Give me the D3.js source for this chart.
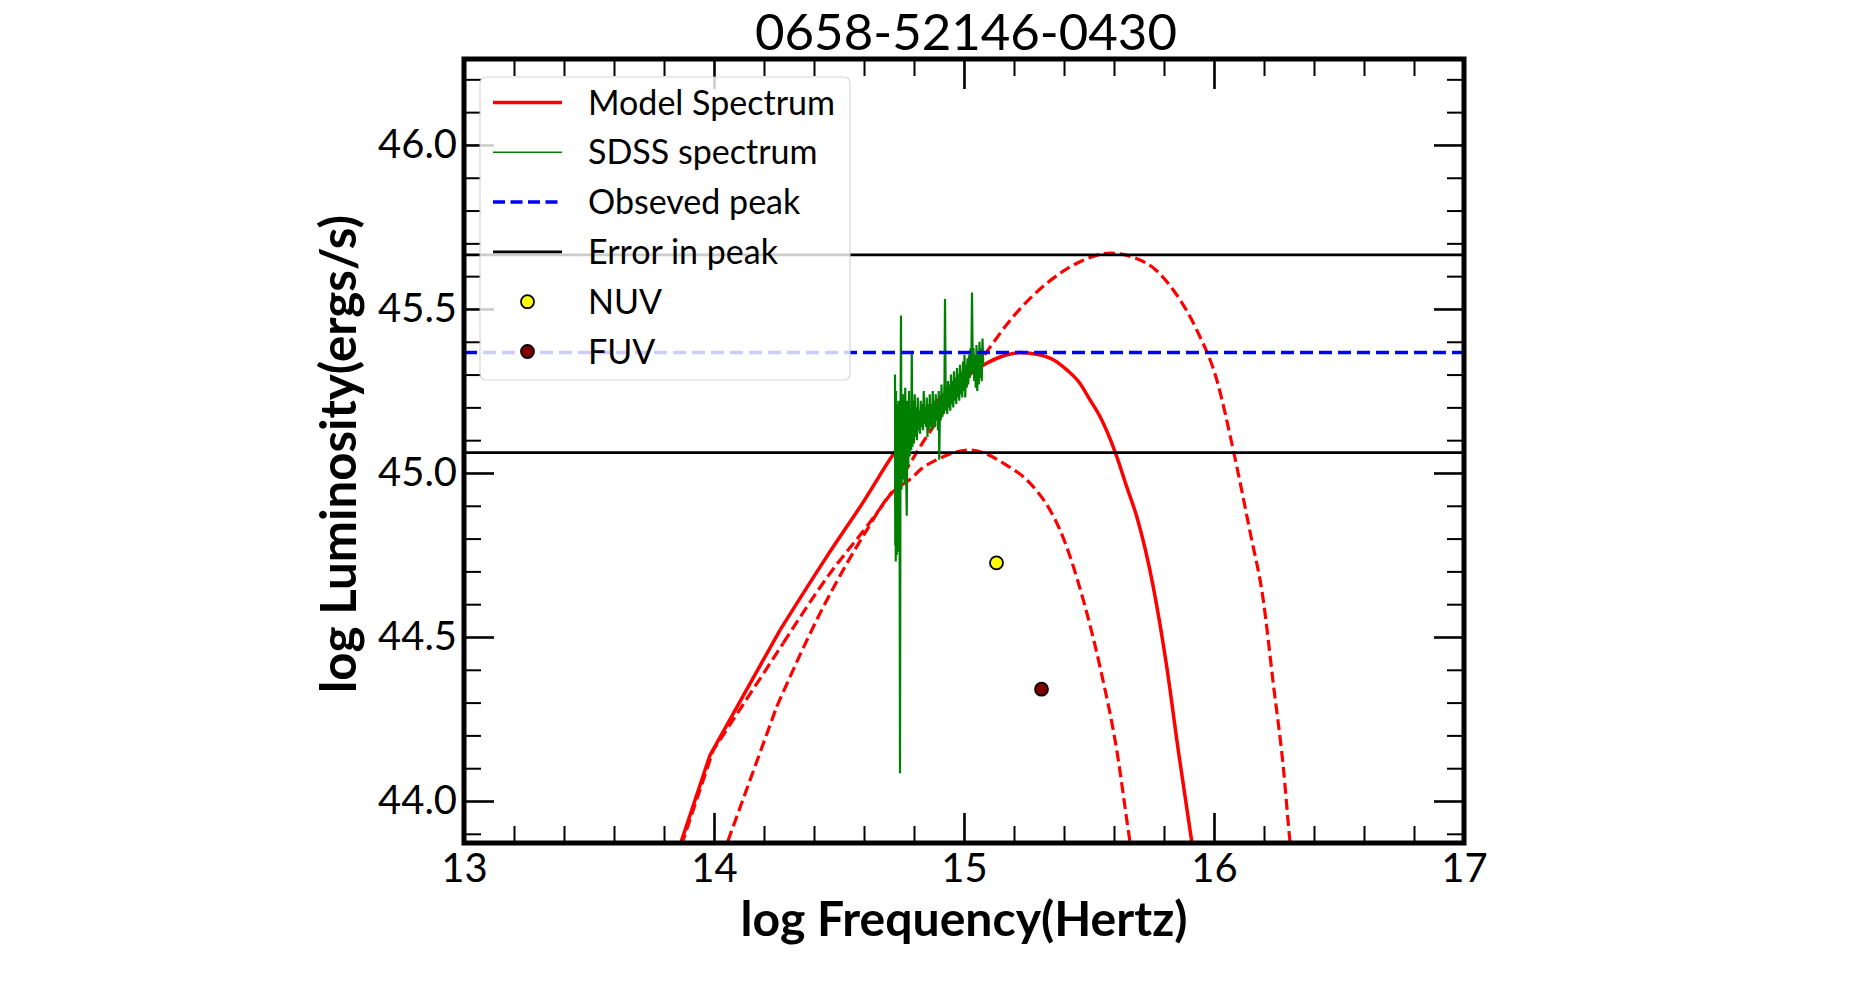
<!DOCTYPE html>
<html lang="en">
<head>
<meta charset="UTF-8">
<title>0658-52146-0430</title>
<script src="https://d3js.org/d3.v7.min.js"></script>
<style>
  body { margin: 0; background: #fff; }
  svg { display: block; font-family: Lato, "Liberation Sans", sans-serif; }
</style>
</head>
<body>
<svg id="chart" width="1855" height="981"></svg>
<script>
// ---- values ----
const plotTitle = "0658-52146-0430";
const nuMajor = [13, 14, 15, 16, 17];
const lumMajor = [44.0, 44.5, 45.0, 45.5, 46.0];

// [log nu, log L]
const modelSpectrum = [
  [13.84, 43.81], [13.984, 44.14], [14.264, 44.521], [14.451, 44.745], [14.60, 44.915],
  [14.72, 45.06], [14.80, 45.14], [14.90, 45.225], [15.00, 45.29], [15.08, 45.33],
  [15.15, 45.355], [15.224, 45.367], [15.29, 45.362], [15.357, 45.345], [15.41, 45.315],
  [15.464, 45.273], [15.504, 45.223], [15.544, 45.172], [15.604, 45.065], [15.65, 44.96],
  [15.691, 44.867], [15.757, 44.653], [15.811, 44.409], [15.857, 44.155], [15.911, 43.876],
  [15.93, 43.78]
];
const modelUpper = [
  [13.85, 43.82], [13.997, 44.155], [14.277, 44.481], [14.464, 44.694], [14.611, 44.837],
  [14.717, 44.948], [14.85, 45.11], [14.95, 45.22], [15.077, 45.355], [15.197, 45.477],
  [15.331, 45.578], [15.464, 45.644], [15.584, 45.670], [15.731, 45.639], [15.837, 45.558],
  [15.931, 45.436], [16.011, 45.284], [16.077, 45.070], [16.144, 44.821], [16.197, 44.613],
  [16.237, 44.359], [16.277, 44.105], [16.304, 43.876], [16.315, 43.80]
];
const modelLower = [
  [14.04, 43.83], [14.057, 43.881], [14.251, 44.288], [14.424, 44.572], [14.611, 44.826],
  [14.70, 44.93], [14.797, 44.989], [14.824, 45.009], [14.904, 45.045], [14.96, 45.062],
  [15.024, 45.070], [15.09, 45.058], [15.157, 45.030], [15.264, 44.969], [15.344, 44.887],
  [15.384, 44.826], [15.477, 44.613], [15.544, 44.409], [15.611, 44.155], [15.664, 43.876],
  [15.68, 43.80]
];
const sdssSpectrum = [
  [14.724, 45.30], [14.725, 44.78], [14.726, 45.18], [14.727, 44.73], [14.728, 45.25],
  [14.729, 44.80], [14.730, 45.12], [14.731, 44.75], [14.732, 45.21], [14.733, 44.85],
  [14.734, 45.10], [14.736, 44.76], [14.738, 45.22], [14.740, 44.90], [14.742, 45.05],
  [14.744, 44.085], [14.746, 45.15], [14.748, 45.48], [14.750, 44.95], [14.752, 45.20],
  [14.754, 44.98], [14.756, 45.24], [14.758, 45.00], [14.760, 45.19], [14.762, 44.97],
  [14.765, 45.26], [14.768, 45.03], [14.771, 44.87], [14.774, 45.22], [14.777, 45.02],
  [14.780, 45.25], [14.783, 45.05], [14.786, 45.18], [14.789, 45.07], [14.791, 45.37],
  [14.794, 45.08], [14.797, 45.22], [14.800, 45.09], [14.803, 45.24], [14.806, 45.11],
  [14.809, 45.20], [14.812, 45.10], [14.815, 45.23], [14.818, 45.13], [14.821, 45.19],
  [14.824, 45.12], [14.827, 45.22], [14.830, 45.14], [14.833, 45.21], [14.836, 45.13],
  [14.839, 45.25], [14.842, 45.15], [14.845, 45.20], [14.848, 45.14], [14.851, 45.23],
  [14.854, 45.11], [14.857, 45.21], [14.860, 45.13], [14.863, 45.24], [14.866, 45.14],
  [14.869, 45.20], [14.872, 45.13], [14.875, 45.25], [14.878, 45.15], [14.881, 45.22],
  [14.884, 45.14], [14.887, 45.24], [14.890, 45.16], [14.893, 45.21], [14.896, 45.13],
  [14.899, 45.25], [14.901, 45.04], [14.904, 45.22], [14.907, 45.16], [14.910, 45.27],
  [14.913, 45.17], [14.916, 45.24], [14.919, 45.18], [14.922, 45.28], [14.924, 45.53],
  [14.927, 45.19], [14.930, 45.26], [14.933, 45.18], [14.936, 45.28], [14.939, 45.20],
  [14.942, 45.27], [14.945, 45.19], [14.948, 45.30], [14.951, 45.21], [14.954, 45.28],
  [14.957, 45.20], [14.960, 45.31], [14.963, 45.22], [14.966, 45.29], [14.969, 45.21],
  [14.972, 45.32], [14.975, 45.23], [14.978, 45.30], [14.981, 45.22], [14.984, 45.33],
  [14.987, 45.24], [14.990, 45.31], [14.993, 45.23], [14.996, 45.34], [14.999, 45.25],
  [15.002, 45.36], [15.005, 45.23], [15.008, 45.33], [15.011, 45.26], [15.014, 45.35],
  [15.017, 45.27], [15.020, 45.36], [15.023, 45.29], [15.026, 45.38], [15.029, 45.30],
  [15.032, 45.55], [15.035, 45.31], [15.038, 45.38], [15.041, 45.28], [15.044, 45.36],
  [15.047, 45.26], [15.050, 45.39], [15.053, 45.25], [15.056, 45.37], [15.059, 45.27],
  [15.062, 45.40], [15.065, 45.29], [15.068, 45.38], [15.071, 45.28], [15.074, 45.41],
  [15.077, 45.33]
];

const peakLum = 45.367;
const peakErr = [45.665, 45.062];

const uvBands = ["NUV", "FUV"];
const uvNu = [15.13, 15.31];
const uvLum = [44.726, 44.341];
const uvColors = ["#ffff00", "#800000"];

const legendLabels = ["Model Spectrum", "SDSS spectrum", "Obseved peak", "Error in peak", "NUV", "FUV"];

// ---- layout ----
const svg = d3.select("#chart");
const x = d3.scaleLinear().domain([13, 17]).range([464, 1464]);
const y = d3.scaleLinear().domain([43.872, 46.262]).range([843, 59]);
const [x0, x1] = x.range();
const [y0, y1] = [y.range()[1], y.range()[0]];

const nuMinor = d3.range(13, 17.001, 0.2).filter(v => Math.abs(v - Math.round(v)) > 1e-6);
const lumMinor = d3.range(43.9, 46.25, 0.1).filter(v => Math.abs(v * 2 - Math.round(v * 2)) > 1e-6);

// fit a text element's font size so it is `target` px wide
function fit(text, target) {
  const w = text.node().getComputedTextLength();
  const s = +text.attr("font-size");
  text.attr("font-size", s * target / w);
  return s * target / w;
}

svg.append("defs").append("clipPath").attr("id", "plotArea")
  .append("rect").attr("x", x0).attr("y", y0).attr("width", x1 - x0).attr("height", y1 - y0);

const plot = svg.append("g").attr("clip-path", "url(#plotArea)");
const smooth = d3.line().x(d => x(d[0])).y(d => y(d[1])).curve(d3.curveMonotoneX);
const line = d3.line().x(d => x(d[0])).y(d => y(d[1]));

// the model grid is coarse at low frequency (sharp kinks), smooth past ~14.25
function modelPath(data, attrs) {
  const parts = [[line, data.slice(0, 3)], [smooth, data.slice(2)]];
  parts.forEach(([gen, pts]) => {
    const p = plot.append("path").datum(pts).attr("d", gen).attr("fill", "none");
    Object.entries(attrs).forEach(([k, v]) => p.attr(k, v));
  });
}

modelPath(modelSpectrum, { stroke: "#ff0000", "stroke-width": 3.5 });
[modelUpper, modelLower].forEach(s =>
  modelPath(s, { stroke: "#ff0000", "stroke-width": 3.2, "stroke-dasharray": "11,5" }));

plot.selectAll(".err").data(peakErr).enter().append("line")
  .attr("x1", x0).attr("x2", x1).attr("y1", d => y(d)).attr("y2", d => y(d))
  .attr("stroke", "#000").attr("stroke-width", 2.6);

plot.append("path").datum(sdssSpectrum).attr("d", line)
  .attr("fill", "none").attr("stroke", "#008000").attr("stroke-width", 2.2)
  .attr("stroke-linejoin", "bevel");

plot.append("line")
  .attr("x1", x0).attr("x2", x1).attr("y1", y(peakLum)).attr("y2", y(peakLum))
  .attr("stroke", "#0000ff").attr("stroke-width", 3.5).attr("stroke-dasharray", "13,6");

plot.selectAll(".uv").data(uvBands).enter().append("circle")
  .attr("cx", (d, i) => x(uvNu[i])).attr("cy", (d, i) => y(uvLum[i])).attr("r", 6.5)
  .attr("fill", (d, i) => uvColors[i]).attr("stroke", "#000").attr("stroke-width", 1.8);

// ---- axes: ticks inward on all four sides ----
function tickAxis(axis, pos, values, size, width, labels) {
  const g = svg.append("g").attr("transform", pos)
    .call(axis.tickValues(values).tickSize(-size).tickPadding(labels ? labels.pad : 0)
      .tickFormat(labels ? labels.fmt : ""));
  g.select(".domain").remove();
  g.attr("font-family", null).attr("font-size", null);
  g.selectAll(".tick line").attr("stroke", "#000").attr("stroke-width", width);
  g.selectAll(".tick text").attr("fill", "#000").attr("font-size", 40);
  return g;
}

tickAxis(d3.axisBottom(x), "translate(0,843)", nuMinor, 17, 2);
tickAxis(d3.axisTop(x), "translate(0,59)", nuMinor, 17, 2);
tickAxis(d3.axisLeft(y), "translate(464,0)", lumMinor, 17, 2);
tickAxis(d3.axisRight(y), "translate(1464,0)", lumMinor, 17, 2);
tickAxis(d3.axisBottom(x), "translate(0,843)", nuMajor, 30, 2.6, { pad: 11, fmt: d3.format("d") });
tickAxis(d3.axisTop(x), "translate(0,59)", nuMajor, 30, 2.6);
const yAxis = tickAxis(d3.axisLeft(y), "translate(464,0)", lumMajor, 30, 2.6, { pad: 7, fmt: d3.format(".1f") });
tickAxis(d3.axisRight(y), "translate(1464,0)", lumMajor, 30, 2.6);

const tickSize = fit(yAxis.selectAll(".tick text").filter(d => d === 46), 79);
svg.selectAll(".tick text").attr("font-size", tickSize);

// ---- legend ----
const legend = svg.append("g");
legend.append("rect").attr("x", 480).attr("y", 77).attr("width", 370).attr("height", 303)
  .attr("rx", 6).attr("fill", "#fff").attr("fill-opacity", 0.8)
  .attr("stroke", "#cccccc").attr("stroke-opacity", 0.8).attr("stroke-width", 1.2);

const legendStyles = [
  { color: "#ff0000", width: 3.5, dash: null },
  { color: "#008000", width: 1.4, dash: null },
  { color: "#0000ff", width: 3.5, dash: "12,5.5" },
  { color: "#000000", width: 2.6, dash: null },
  { marker: 0 },
  { marker: 1 }
];

const rows = legend.selectAll(".item").data(legendLabels).enter().append("g")
  .attr("transform", (d, i) => `translate(0,${102.5 + i * 49.8})`);
rows.each(function (d, i) {
  const st = legendStyles[i];
  const g = d3.select(this);
  if (st.marker === undefined) {
    g.append("line").attr("x1", 493).attr("x2", 562).attr("y1", 0).attr("y2", 0)
      .attr("stroke", st.color).attr("stroke-width", st.width).attr("stroke-dasharray", st.dash);
  } else {
    g.append("circle").attr("cx", 527.5).attr("cy", 0).attr("r", 6.5)
      .attr("fill", uvColors[st.marker]).attr("stroke", "#000").attr("stroke-width", 1.8);
  }
});
const legendText = rows.append("text").attr("x", 588).attr("y", 12).attr("font-size", 33)
  .text(d => d);
const legendSize = fit(legendText.filter((d, i) => i === 0), 247);
legendText.attr("font-size", legendSize);

// ---- frame, title and axis labels ----
svg.append("rect").attr("x", x0).attr("y", y0).attr("width", x1 - x0).attr("height", y1 - y0)
  .attr("fill", "none").attr("stroke", "#000").attr("stroke-width", 5);

const title = svg.append("text").attr("x", 966).attr("y", 50).attr("text-anchor", "middle")
  .attr("font-size", 52).text(plotTitle);
fit(title, 422);

const xLabel = svg.append("text").attr("x", 964).attr("y", 936).attr("text-anchor", "middle")
  .attr("font-size", 42).attr("font-weight", "bold").text("log Frequency(Hertz)");
fit(xLabel, 447);

const yLabel = svg.append("text").attr("transform", "translate(356,454) rotate(-90)")
  .attr("text-anchor", "middle").attr("font-size", 42).attr("font-weight", "bold")
  .text("log Luminosity(ergs/s)");
fit(yLabel, 478);
</script>
</body>
</html>
